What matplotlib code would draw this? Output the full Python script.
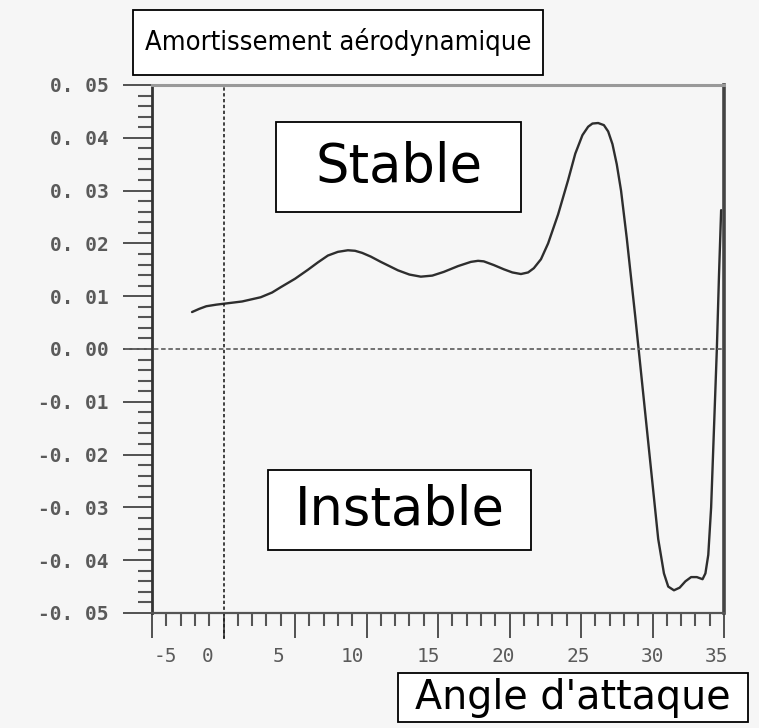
import matplotlib
matplotlib.use("Agg")
import matplotlib.pyplot as plt
import matplotlib.transforms as mtransforms
from matplotlib.patches import Rectangle
from matplotlib.ticker import MultipleLocator

# angle d'attaque (deg) et amortissement
angle = [-2.2, -1.7, -1.2, -0.5, 0.1, 1.3, 2.6, 3.4, 4.0, 5.0, 5.9, 6.6, 7.3, 8.0,
         8.7, 9.2, 9.7, 10.3, 11.0, 11.6, 12.2, 13.0, 13.8, 14.6, 15.4, 16.4, 17.3,
         17.8, 18.2, 18.9, 19.6, 20.2, 20.8, 21.3, 21.7, 22.2, 22.7, 23.4, 24.1,
         24.6, 25.1, 25.5, 25.8, 26.2, 26.6, 26.9, 27.2, 27.5, 27.8, 28.2, 28.8,
         29.6, 30.4, 30.8, 31.1, 31.5, 31.9, 32.3, 32.7, 33.1, 33.5, 33.7, 33.9,
         34.1, 34.3, 34.5, 34.65, 34.8]
amort = [0.0070, 0.0076, 0.0081, 0.0084, 0.0086, 0.0090, 0.0098, 0.0107, 0.0117,
         0.0133, 0.0150, 0.0164, 0.0177, 0.0184, 0.0187, 0.0186, 0.0182, 0.0175,
         0.0165, 0.0157, 0.0149, 0.0141, 0.0137, 0.0139, 0.0146, 0.0157, 0.0165,
         0.0167, 0.0166, 0.0159, 0.0151, 0.0145, 0.0142, 0.0145, 0.0153, 0.0170,
         0.0200, 0.0255, 0.0320, 0.0370, 0.0405, 0.0421, 0.0427, 0.0428, 0.0424,
         0.0412, 0.0388, 0.0350, 0.0300, 0.0210, 0.0060, -0.0150, -0.0360,
         -0.0425, -0.0450, -0.0457, -0.0452, -0.0440, -0.0432, -0.0432, -0.0436,
         -0.0425, -0.0390, -0.0300, -0.0150, 0.0000, 0.0140, 0.0263]

x_ticks = [-5, 0, 5, 10, 15, 20, 25, 30, 35]
x_labels = ["-5", "0", "5", "10", "15", "20", "25", "30", "35"]
y_ticks = [0.05, 0.04, 0.03, 0.02, 0.01, 0.0, -0.01, -0.02, -0.03, -0.04, -0.05]
y_labels = ["0. 05", "0. 04", "0. 03", "0. 02", "0. 01", "0. 00",
            "-0. 01", "-0. 02", "-0. 03", "-0. 04", "-0. 05"]
# decalage des etiquettes en x (pixels), comme sur l'original scanne
x_label_shift = [13, -16, -16, -14, -10, -6, -3, 0, -7]

W, H = 759, 728
bg = "#f6f6f6"
fig = plt.figure(figsize=(W / 100, H / 100), dpi=100, facecolor=bg)
ax = fig.add_axes([152 / W, 1 - 613 / H, 572 / W, 528 / H], facecolor=bg)

ax.plot(angle, amort, color="#2e2e2e", lw=1.7, solid_capstyle="round",
        solid_joinstyle="round")
ax.set_xlim(-5, 35)
ax.set_ylim(-0.05, 0.05)

# lignes pointillees des axes zero (prolongees hors du cadre)
ax.plot([0, 0], [-0.055, 0.05], color="#222222", lw=1.2, ls=(0, (2, 1.5)),
        clip_on=False)
ax.plot([-6.9, 35], [0, 0], color="#666666", lw=1.3, ls=(0, (2.5, 1.5)),
        clip_on=False)

for side, c, w in [("left", "#333333", 2.0), ("bottom", "#555555", 1.6),
                   ("top", "#999999", 2.2), ("right", "#444444", 2.6)]:
    ax.spines[side].set_color(c)
    ax.spines[side].set_linewidth(w)

ax.set_yticks(y_ticks)
ax.set_yticklabels(y_labels, family="DejaVu Sans Mono", fontsize=14,
                   fontweight="bold", color="#5a5a5a")
ax.yaxis.set_minor_locator(MultipleLocator(0.002))
ax.tick_params(axis="y", which="major", direction="out", length=21, width=1.3,
               color="#444444", pad=10)
ax.tick_params(axis="y", which="minor", direction="out", length=10, width=1.5,
               color="#555555")

ax.set_xticks(x_ticks)
ax.set_xticklabels([])
ax.xaxis.set_minor_locator(MultipleLocator(1))
ax.tick_params(axis="x", which="major", direction="out", length=18, width=1.3,
               color="#444444")
ax.tick_params(axis="x", which="minor", direction="out", length=9, width=1.5,
               color="#555555")

for xv, lab, dx in zip(x_ticks, x_labels, x_label_shift):
    off = mtransforms.ScaledTranslation(dx / 100, 0, fig.dpi_scale_trans)
    ax.text(xv, -0.0565, lab, transform=ax.transData + off,
            ha="center", va="top", family="DejaVu Sans Mono", fontsize=14,
            color="#5a5a5a", clip_on=False)


def boxed(x0, y0, x1, y1, text, size, family, stretch="normal"):
    rect = Rectangle((x0 / W, 1 - y1 / H), (x1 - x0) / W, (y1 - y0) / H,
                     transform=fig.transFigure, facecolor="white",
                     edgecolor="black", lw=1.3)
    fig.add_artist(rect)
    fig.text((x0 + x1) / 2 / W, 1 - (y0 + y1) / 2 / H, text, ha="center",
             va="center", fontsize=size, family=family, color="black",
             fontstretch=stretch)


boxed(133, 10, 543, 75, "Amortissement aérodynamique", 19.5,
      ["DejaVu Sans"], stretch="condensed")
boxed(276, 122, 521, 212, "Stable", 38, ["DejaVu Sans"])
boxed(268, 470, 531, 550, "Instable", 38, ["DejaVu Sans"])
boxed(398, 673, 748, 722, "Angle d'attaque", 28.5, ["DejaVu Sans"])

plt.savefig("out.png", dpi=100, facecolor=bg)
